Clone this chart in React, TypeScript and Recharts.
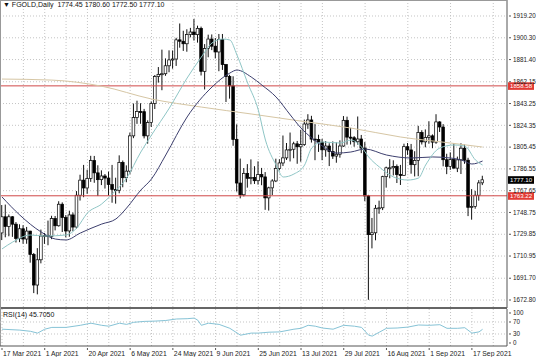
import React from 'react';
import {
  ComposedChart,
  Bar,
  Line,
  XAxis,
  YAxis,
  CartesianGrid,
  ReferenceLine,
} from 'recharts';

// daily candles, 17 Mar 2021 .. 22 Sep 2021
const OPEN = [
  1731.0, 1745.0, 1736.6, 1745.0, 1738.6, 1726.3, 1734.6, 1725.7, 1732.6, 1712.3,
  1685.8, 1707.7, 1728.3, 1728.8, 1728.0, 1743.5, 1737.2, 1755.9, 1744.3, 1732.7,
  1746.6, 1736.1, 1763.7, 1776.8, 1770.0, 1778.3, 1793.8, 1783.1, 1777.2, 1780.4,
  1778.6, 1773.0, 1768.7, 1768.0, 1792.1, 1778.9, 1784.6, 1815.2, 1831.1, 1836.3,
  1836.2, 1815.2, 1826.8, 1843.4, 1866.7, 1868.6, 1869.1, 1876.0, 1881.1, 1881.9,
  1898.5, 1897.3, 1895.1, 1903.1, 1905.3, 1903.0, 1908.5, 1871.2, 1891.1, 1899.2,
  1893.0, 1888.0, 1898.9, 1877.0, 1866.6, 1858.6, 1812.1, 1774.3, 1764.1, 1782.7,
  1778.4, 1779.0, 1776.3, 1781.6, 1779.6, 1761.4, 1770.1, 1776.1, 1787.0, 1791.7,
  1796.1, 1803.0, 1803.6, 1808.3, 1805.7, 1807.6, 1825.5, 1829.0, 1812.4, 1812.1,
  1809.7, 1803.1, 1806.4, 1801.6, 1797.7, 1799.3, 1806.4, 1828.7, 1814.1, 1813.6,
  1810.1, 1812.5, 1804.6, 1763.1, 1729.5, 1731.1, 1752.4, 1752.8, 1779.8, 1787.5,
  1787.5, 1788.6, 1781.6, 1781.0, 1805.8, 1803.0, 1790.2, 1793.9, 1818.1, 1810.0,
  1813.8, 1815.2, 1809.8, 1827.3, 1822.9, 1794.5, 1788.7, 1794.6, 1787.2, 1794.4,
  1804.5, 1794.1, 1753.2, 1754.0, 1763.7, 1774.45,
];
const HIGH = [
  1755.2, 1755.6, 1747.0, 1745.6, 1740.4, 1738.5, 1737.7, 1736.2, 1732.8, 1713.6,
  1717.8, 1733.9, 1731.0, 1741.7, 1745.9, 1745.7, 1758.5, 1757.5, 1746.5, 1750.3,
  1748.7, 1767.3, 1781.5, 1790.0, 1785.8, 1797.9, 1797.8, 1789.7, 1785.3, 1782.1,
  1784.2, 1790.0, 1778.9, 1798.3, 1793.8, 1789.6, 1818.0, 1843.3, 1845.7, 1843.5,
  1838.6, 1828.7, 1845.1, 1868.0, 1874.9, 1890.0, 1882.4, 1889.4, 1889.3, 1900.3,
  1912.7, 1906.4, 1907.7, 1908.9, 1916.6, 1910.8, 1910.0, 1894.8, 1903.0, 1903.2,
  1900.1, 1903.6, 1903.6, 1877.6, 1868.2, 1866.9, 1825.2, 1795.5, 1787.3, 1790.7,
  1794.8, 1788.9, 1793.1, 1787.4, 1783.8, 1771.1, 1777.6, 1795.4, 1794.9, 1815.5,
  1809.0, 1818.1, 1810.1, 1810.8, 1820.3, 1829.3, 1834.0, 1832.6, 1825.4, 1816.2,
  1812.6, 1810.7, 1808.8, 1810.4, 1809.6, 1811.3, 1832.4, 1831.9, 1822.2, 1815.0,
  1832.0, 1816.0, 1809.8, 1764.0, 1744.0, 1755.3, 1759.0, 1780.6, 1788.5, 1795.0,
  1794.0, 1790.4, 1790.0, 1808.4, 1809.0, 1808.2, 1801.9, 1823.9, 1820.1, 1820.8,
  1827.9, 1816.5, 1834.0, 1827.9, 1825.4, 1799.7, 1800.9, 1808.7, 1797.2, 1808.8,
  1807.6, 1796.2, 1769.0, 1767.5, 1776.8, 1780.6,
];
const LOW = [
  1724.8, 1727.2, 1728.1, 1727.6, 1722.7, 1723.0, 1721.6, 1721.6, 1705.2, 1678.8,
  1677.7, 1704.6, 1721.5, 1720.3, 1725.6, 1733.2, 1736.5, 1731.8, 1727.2, 1727.7,
  1732.6, 1734.8, 1759.1, 1762.0, 1764.9, 1775.3, 1774.5, 1763.0, 1772.5, 1769.5,
  1763.5, 1757.2, 1756.4, 1765.4, 1770.6, 1775.0, 1782.0, 1813.2, 1825.6, 1825.7,
  1813.0, 1808.4, 1822.9, 1838.5, 1861.4, 1854.8, 1867.3, 1870.4, 1873.5, 1875.9,
  1891.7, 1888.9, 1888.2, 1900.7, 1897.9, 1896.1, 1867.6, 1855.5, 1883.4, 1889.6,
  1882.4, 1871.3, 1872.4, 1844.6, 1847.5, 1806.6, 1766.9, 1761.0, 1762.7, 1770.3,
  1773.2, 1773.5, 1772.9, 1772.4, 1751.0, 1750.4, 1763.9, 1775.1, 1785.3, 1789.0,
  1794.3, 1793.0, 1795.8, 1791.0, 1792.8, 1806.5, 1821.3, 1809.4, 1794.1, 1801.3,
  1794.1, 1797.1, 1789.0, 1795.2, 1791.9, 1796.3, 1805.7, 1807.6, 1807.7, 1805.8,
  1807.6, 1800.2, 1758.6, 1673.0, 1717.6, 1724.6, 1747.6, 1750.8, 1770.3, 1778.4,
  1780.9, 1774.3, 1772.6, 1780.5, 1798.7, 1782.4, 1780.0, 1780.2, 1807.7, 1805.3,
  1808.4, 1804.5, 1808.3, 1818.6, 1788.8, 1782.0, 1785.7, 1787.0, 1783.8, 1782.1,
  1791.0, 1745.6, 1742.5, 1752.0, 1759.0, 1772.5,
];
const CLOSE = [
  1745.0, 1736.6, 1745.0, 1738.6, 1726.3, 1734.6, 1725.7, 1732.6, 1712.3, 1685.8,
  1707.7, 1728.3, 1728.8, 1728.0, 1743.5, 1737.2, 1755.9, 1744.3, 1732.7, 1746.6,
  1736.1, 1763.7, 1776.8, 1770.0, 1778.3, 1793.8, 1783.1, 1777.2, 1780.4, 1778.6,
  1773.0, 1768.7, 1768.0, 1792.1, 1778.9, 1784.6, 1815.2, 1831.1, 1836.3, 1836.2,
  1815.2, 1826.8, 1843.4, 1866.7, 1868.6, 1869.1, 1876.0, 1881.1, 1881.9, 1898.5,
  1897.3, 1895.1, 1903.1, 1905.3, 1903.0, 1908.5, 1871.2, 1891.1, 1899.2, 1893.0,
  1888.0, 1898.9, 1877.0, 1866.6, 1858.6, 1812.1, 1774.3, 1764.1, 1782.7, 1778.4,
  1779.0, 1776.3, 1781.6, 1779.6, 1761.4, 1770.1, 1776.1, 1787.0, 1791.7, 1796.1,
  1803.0, 1803.6, 1808.3, 1805.7, 1807.6, 1825.5, 1829.0, 1812.4, 1812.1, 1809.7,
  1803.1, 1806.4, 1801.6, 1797.7, 1799.3, 1806.4, 1828.7, 1814.1, 1813.6, 1810.1,
  1812.5, 1804.6, 1763.1, 1729.5, 1731.1, 1752.4, 1752.8, 1779.8, 1787.5, 1787.5,
  1788.6, 1781.6, 1781.0, 1805.8, 1803.0, 1790.2, 1793.9, 1818.1, 1810.0, 1813.8,
  1815.2, 1809.8, 1827.3, 1822.9, 1794.5, 1788.7, 1794.6, 1787.2, 1794.4, 1804.5,
  1794.1, 1753.2, 1754.0, 1763.7, 1774.4, 1777.1,
];

// moving averages: [bar, price]
const MA_FAST = [
  [0, 1717.1], [3, 1723.1], [8, 1729.2], [12, 1728.3], [18, 1729.2], [21, 1735.3],
  [24, 1748.3], [28, 1756.1], [31, 1764.8], [35, 1778.6], [39, 1801.2], [42, 1815.9],
  [47, 1839.3], [52, 1865.4], [56, 1883.6], [59, 1895.8], [62, 1899.2], [64, 1898.4],
  [66, 1885.4], [69, 1861.1], [72, 1837.6], [74, 1811.6], [77, 1789.9], [79, 1779.5],
  [82, 1782.1], [85, 1789.9], [87, 1804.7], [90, 1809.9], [95, 1809.0], [98, 1811.6],
  [101, 1805.5], [103, 1796.9], [106, 1788.2], [110, 1779.5], [114, 1776.9], [117, 1778.6],
  [119, 1789.9], [123, 1804.7], [127, 1807.3], [130, 1806.4], [133, 1794.3], [135, 1789.9],
];
const MA_MID = [
  [0, 1762.2], [5, 1746.5], [11, 1731.8], [15, 1725.7], [18, 1724.9], [22, 1730.9],
  [28, 1738.7], [32, 1743.1], [35, 1752.6], [39, 1768.2], [42, 1777.8], [46, 1798.6],
  [52, 1831.6], [59, 1857.6], [64, 1869.7], [66, 1872.3], [70, 1866.3], [73, 1859.3],
  [77, 1848.9], [81, 1833.3], [84, 1822.0], [87, 1813.4], [90, 1806.4], [94, 1800.3],
  [98, 1801.2], [102, 1803.8], [108, 1798.6], [115, 1796.0], [121, 1796.9], [126, 1796.0],
  [129, 1794.3], [132, 1790.8], [135, 1793.4],
];
const MA_SLOW = [
  [0, 1864.5], [14, 1863.6], [28, 1858.3], [42, 1847.2], [56, 1840.2], [70, 1834.2],
  [84, 1828.0], [98, 1822.0], [112, 1814.2], [126, 1809.0], [135, 1805.5],
];
const RSI = [
  [0, 46], [5, 43], [8, 39], [10, 33], [12, 46], [14, 52], [18, 52], [22, 59], [25, 66],
  [28, 59], [30, 56], [33, 66], [35, 62], [37, 69], [40, 72], [43, 73], [46, 75], [49, 80],
  [52, 81], [54, 83], [55, 76], [56, 59], [58, 66], [61, 62], [64, 49], [67, 26], [70, 33],
  [72, 33], [75, 36], [78, 37], [82, 46], [84, 49], [86, 59], [88, 56], [90, 50], [93, 46],
  [96, 59], [99, 56], [101, 52], [103, 26], [104, 23], [106, 36], [108, 49], [111, 50],
  [114, 53], [117, 60], [120, 59], [123, 61], [125, 49], [128, 49], [130, 51], [132, 33],
  [134, 37], [135, 45.7],
];

const PRICE_TICKS = [
  1672.8, 1691.7, 1710.95, 1729.85, 1748.75, 1767.65, 1786.55, 1805.45, 1824.35,
  1843.25, 1862.15, 1881.4, 1900.3, 1919.2,
];
const RSI_TICKS = [0, 30, 70, 100];
const DATE_LABELS = [
  '17 Mar 2021', '1 Apr 2021', '20 Apr 2021', '6 May 2021', '24 May 2021', '9 Jun 2021',
  '25 Jun 2021', '13 Jul 2021', '29 Jul 2021', '16 Aug 2021', '1 Sep 2021', '17 Sep 2021',
];
const LABEL_STEP = 12;
const GRID_BARS = Array.from({ length: 24 }, (_, k) => k * 6);

const RESISTANCE = 1858.58;
const SUPPORT = 1763.22;
const LAST = 1777.1;

const X_DOMAIN = [-0.562, 141.86];
const FONT = '"Liberation Sans", Arial, sans-serif';
const AXIS = '#555';

const candles = CLOSE.map((c, i) => ({
  i,
  open: OPEN[i],
  high: HIGH[i],
  low: LOW[i],
  close: c,
  range: [LOW[i], HIGH[i]],
}));
const toPoints = (arr: number[][]) => arr.map(([i, v]) => ({ i, v }));

function Candle(props: any) {
  const { x, y, width, height, payload } = props;
  if (x == null || !payload) return null;
  const top = Math.min(y, y + height);
  const span = Math.abs(height);
  const { open, high, low, close } = payload;
  const toY = (v: number) => top + ((high - v) / (high - low)) * span;
  const cx = x + width / 2;
  const yo = toY(open);
  const yc = toY(close);
  const up = close >= open;
  return (
    <g>
      <line x1={cx} x2={cx} y1={top} y2={top + span} stroke="#111" strokeWidth={1} />
      <rect
        x={cx - 1.35}
        y={Math.min(yo, yc)}
        width={2.7}
        height={Math.max(Math.abs(yo - yc), 1)}
        fill={up ? '#fff' : '#000'}
        stroke="#000"
        strokeWidth={0.7}
      />
    </g>
  );
}

function PriceTick({ x, y, payload, digits }: any) {
  return (
    <g>
      <line x1={x - 3} x2={x - 1} y1={y} y2={y} stroke={AXIS} />
      <text x={x + 1} y={y + 2.2} fontSize={6.3} fill="#222" fontFamily={FONT}>
        {payload.value.toFixed(digits)}
      </text>
    </g>
  );
}

function DateTick({ x, y, payload }: any) {
  const k = payload.value / LABEL_STEP;
  if (!Number.isInteger(k) || !DATE_LABELS[k]) return null;
  return (
    <g>
      <line x1={x} x2={x} y1={y} y2={y + 2} stroke={AXIS} />
      <text x={x + 1} y={y + 8} fontSize={6.8} fill="#222" fontFamily={FONT}>
        {DATE_LABELS[k]}
      </text>
    </g>
  );
}

function PriceTag({ viewBox, text, bg }: any) {
  if (!viewBox) return null;
  const x = viewBox.x + viewBox.width + 1;
  const y = viewBox.y;
  return (
    <g>
      <rect x={x} y={y - 3.6} width={26} height={7.6} fill={bg} />
      <text x={x + 2} y={y + 2.1} fontSize={6.1} fill="#fff" fontFamily={FONT}>
        {text}
      </text>
    </g>
  );
}

export default function App() {
  return (
    <div
      style={{
        position: 'absolute',
        left: 0,
        top: 0,
        width: 536,
        height: 357,
        background: '#fff',
        fontFamily: FONT,
        overflow: 'hidden',
      }}
    >
      <div style={{ position: 'absolute', left: 0, top: 0 }}>
        <ComposedChart
          width={536}
          height={308}
          data={candles}
          margin={{ top: 0, right: 0, bottom: 0, left: 0 }}
        >
          <CartesianGrid
            stroke="#c4c4c4"
            strokeDasharray="1 2"
            horizontalValues={PRICE_TICKS}
            verticalValues={GRID_BARS}
          />
          <XAxis
            dataKey="i"
            type="number"
            domain={X_DOMAIN}
            allowDataOverflow
            hide
          />
          <YAxis
            orientation="right"
            width={29}
            domain={[1665.87, 1933.08]}
            allowDataOverflow
            ticks={PRICE_TICKS}
            interval={0}
            axisLine={{ stroke: AXIS }}
            tickLine={false}
            tickSize={3}
            tick={<PriceTick digits={2} />}
          />
          <ReferenceLine y={RESISTANCE} stroke="#d04848" strokeWidth={1} label={<PriceTag text="1858.58" bg="#e23b34" />} />
          <ReferenceLine y={SUPPORT} stroke="#d04848" strokeWidth={1} label={<PriceTag text="1763.22" bg="#e23b34" />} />
          <Bar dataKey="range" barSize={3} shape={<Candle />} isAnimationActive={false} />
          <Line data={toPoints(MA_SLOW)} dataKey="v" type="monotone" stroke="#d6c6a4" strokeWidth={1} dot={false} isAnimationActive={false} />
          <Line data={toPoints(MA_MID)} dataKey="v" type="monotone" stroke="#3d3f6e" strokeWidth={1} dot={false} isAnimationActive={false} />
          <Line data={toPoints(MA_FAST)} dataKey="v" type="monotone" stroke="#8fc6c6" strokeWidth={1} dot={false} isAnimationActive={false} />
          <ReferenceLine y={LAST} stroke="none" label={<PriceTag text="1777.10" bg="#000" />} />
        </ComposedChart>
      </div>

      <div style={{ position: 'absolute', left: 0, top: 307, width: 507, height: 2, background: '#666' }} />
      <div style={{ position: 'absolute', left: 0, top: 0, width: 507, height: 1, background: '#999' }} />
      <div style={{ position: 'absolute', left: 0, top: 0, width: 1, height: 346, background: '#999' }} />

      <div style={{ position: 'absolute', left: 0, top: 309 }}>
        <ComposedChart
          width={536}
          height={48}
          data={toPoints(RSI)}
          margin={{ top: 0, right: 0, bottom: 0, left: 0 }}
        >
          <CartesianGrid
            stroke="#c4c4c4"
            strokeDasharray="1 2"
            horizontalValues={[30, 70]}
            verticalValues={GRID_BARS}
          />
          <XAxis
            dataKey="i"
            type="number"
            domain={X_DOMAIN}
            allowDataOverflow
            ticks={GRID_BARS}
            interval={0}
            height={11}
            axisLine={{ stroke: AXIS }}
            tickLine={false}
            tickSize={0}
            tick={<DateTick />}
          />
          <YAxis
            orientation="right"
            width={29}
            domain={[-10, 113.33]}
            allowDataOverflow
            ticks={RSI_TICKS}
            interval={0}
            axisLine={{ stroke: AXIS }}
            tickLine={false}
            tickSize={3}
            tick={<PriceTick digits={0} />}
          />
          <Line dataKey="v" type="linear" stroke="#86c3d6" strokeWidth={1} dot={false} isAnimationActive={false} />
        </ComposedChart>
      </div>

      <div style={{ position: 'absolute', left: 3, top: 1, fontSize: 7, color: '#111', whiteSpace: 'pre' }}>
        {'▼ FGOLD,Daily  1774.45 1780.60 1772.50 1777.10'}
      </div>
      <div style={{ position: 'absolute', left: 3, top: 311, fontSize: 7, color: '#111', whiteSpace: 'pre' }}>
        {'RSI(14) 45.7050'}
      </div>
    </div>
  );
}
